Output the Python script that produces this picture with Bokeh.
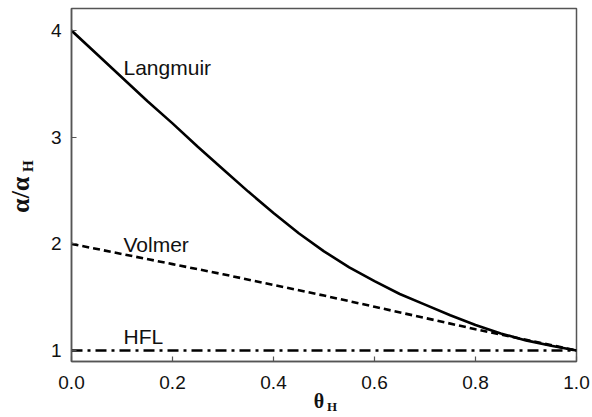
from bokeh.plotting import figure
from bokeh.models import FixedTicker, PrintfTickFormatter, LinearAxis, ColumnDataSource
from bokeh.core.properties import value
from bokeh.embed import file_html
from bokeh.resources import INLINE

# ---- data ----
theta = [0.0, 0.05, 0.1, 0.15, 0.2, 0.25, 0.3, 0.35, 0.4, 0.45, 0.5,
         0.55, 0.6, 0.65, 0.7, 0.75, 0.8, 0.85, 0.9, 0.95, 1.0]
langmuir = [4.00, 3.78, 3.56, 3.34, 3.13, 2.91, 2.70, 2.49, 2.29, 2.10, 1.93,
            1.78, 1.65, 1.53, 1.43, 1.33, 1.24, 1.16, 1.095, 1.045, 1.00]
theta_v = [0.0, 0.1, 0.2, 0.3, 0.4, 0.5, 0.6, 0.7, 0.8, 0.9, 1.0]
volmer = [2.00, 1.905, 1.81, 1.715, 1.615, 1.515, 1.41, 1.305, 1.20, 1.10, 1.00]
theta_h = [0.0, 1.0]
hfl = [1.0, 1.0]
series_names = ["Langmuir", "Volmer", "HFL"]
x_ticks = [0.0, 0.2, 0.4, 0.6, 0.8, 1.0]
y_ticks = [1, 2, 3, 4]
x_title, x_sub = "θ", "H"
y_title, y_sub = "α/α", "H"

# layout of the frame in the 592x417 page
FL, FR, FT, FB = 71, 576, 8, 361
X0, X1 = 0.0, 1.0
Y0, Y1 = 0.897, 4.207
NB = "\u00a0"

def dx(px):
    return X0 + (px - FL) / (FR - FL) * (X1 - X0)

def dy(py):
    return Y1 - (py - FT) / (FB - FT) * (Y1 - Y0)

p = figure(width=592, height=417, x_range=(X0, X1), y_range=(Y0, Y1),
           output_backend="svg", toolbar_location=None,
           min_border_left=FL, min_border_right=592 - FR,
           min_border_top=FT, min_border_bottom=417 - FB)
p.background_fill_color = "white"
p.border_fill_color = "white"
p.xgrid.visible = False
p.ygrid.visible = False
p.outline_line_color = "#555555"
p.outline_line_width = 1.5
p.outline_line_alpha = 1.0

for ax in (p.xaxis[0], p.yaxis[0]):
    ax.axis_line_color = "#555555"
    ax.axis_line_width = 1.5
    ax.major_tick_in = 5
    ax.major_tick_out = 0
    ax.minor_tick_in = 0
    ax.minor_tick_out = 0
    ax.major_tick_line_color = "#555555"
    ax.major_tick_line_width = 1.2
    ax.minor_tick_line_color = None
    ax.major_label_text_font = "Liberation Sans"
    ax.major_label_text_font_size = "19px"
    ax.major_label_text_color = "#111111"
    ax.axis_label_text_font = "Liberation Serif"
    ax.axis_label_text_font_style = "bold"
    ax.axis_label_text_color = "#111111"

p.xaxis.ticker = FixedTicker(ticks=x_ticks)
p.xaxis.formatter = PrintfTickFormatter(format="%.1f")
p.xaxis.major_label_standoff = 14
p.xaxis.axis_label = x_title + NB * 2
p.xaxis.axis_label_text_font_size = "20px"
p.xaxis.axis_label_standoff = -2

p.yaxis.ticker = FixedTicker(ticks=y_ticks)
p.yaxis.formatter = PrintfTickFormatter(format="%d")
p.yaxis.major_label_standoff = 10
p.yaxis.axis_label = NB * 10 + y_sub
p.yaxis.axis_label_text_font_size = "15px"
p.yaxis.axis_label_standoff = 12

# outer axes that only carry the rest of the axis titles
def title_axis(text, size, standoff):
    a = LinearAxis(ticker=FixedTicker(ticks=[]), axis_line_color=None,
                   major_tick_in=0, major_tick_out=0, minor_tick_in=0, minor_tick_out=0,
                   major_label_standoff=0, axis_label=text,
                   axis_label_text_font="Liberation Serif",
                   axis_label_text_font_style="bold",
                   axis_label_text_font_size=size,
                   axis_label_text_color="#111111",
                   axis_label_standoff=standoff)
    return a

p.add_layout(title_axis(NB * 5 + x_sub, "13px", -16), "below")
p.add_layout(title_axis(y_title + NB * 3, "26px", -18), "left")

# curves
p.line(theta, langmuir, line_color="black", line_width=2.6)
p.line(theta_v, volmer, line_color="black", line_width=2.6, line_dash="7 4")
p.line(theta_h, hfl, line_color="black", line_width=2.6, line_dash="11 5 3 5")

# curve labels
src = ColumnDataSource(dict(x=[dx(123), dx(123), dx(123)],
                            y=[dy(67), dy(244), dy(336)],
                            t=series_names))
p.text(x="x", y="y", text="t", source=src, text_font=value("Liberation Sans"),
       text_font_size="21px", text_color="#111111",
       text_align="left", text_baseline="alphabetic")

open("out.html", "w").write(file_html(p, INLINE))
